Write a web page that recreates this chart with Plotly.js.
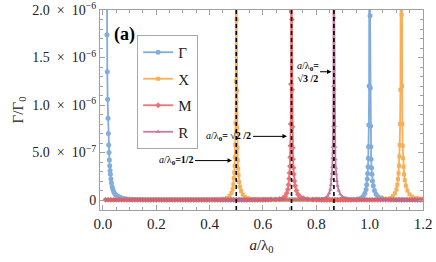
<!DOCTYPE html>
<html>
<head>
<meta charset="utf-8">
<script src="https://cdn.plot.ly/plotly-3.0.1.min.js"></script>
<style>
html,body{margin:0;padding:0;background:#fff;}
#chart{width:436px;height:262px;}
</style>
</head>
<body>
<div id="chart"></div>
<script>
// ---- data ----
const seriesNames = ["Γ", "X", "M", "R"];

const gammaX = [
  0.010,0.0125,0.015,0.0163,0.0177,0.019,0.0203,0.0216,0.0228,0.0241,0.0254,0.0267,0.028,0.030,0.032,0.0345,0.037,0.040,0.044,0.048,0.053,0.058,0.064,0.070,0.080,0.090,0.100,
  0.11,0.12,0.13,0.14,0.15,0.16,0.17,0.18,0.19,0.20,
  0.21,0.22,0.23,0.24,0.25,0.26,0.27,0.28,0.29,0.30,
  0.31,0.32,0.33,0.34,0.35,0.36,0.37,0.38,0.39,0.40,
  0.41,0.42,0.43,0.44,0.45,0.46,0.47,0.48,0.49,0.50,
  0.51,0.52,0.53,0.54,0.55,0.56,0.57,0.58,0.59,0.60,
  0.61,0.62,0.63,0.64,0.65,0.66,0.67,0.68,0.69,0.70,
  0.71,0.72,0.73,0.74,0.75,0.76,0.77,0.78,0.79,0.80,
  0.81,0.82,0.83,0.84,0.85,0.86,0.87,0.88,0.89,0.90,
  0.91,0.92,0.93,
  0.94,0.955,0.968,0.976,0.982,0.9865,0.989,0.991,0.9925,0.994,0.995,0.996,0.997,0.998,1.000,1.0015,1.0025,1.0035,1.0045,1.0055,1.007,1.0085,1.0105,1.0135,1.018,1.024,1.032,1.045,1.060,1.080,
  1.09,1.10,1.11,1.12,1.13,1.14,1.15,1.16,1.17,1.18,1.19,1.20
];
const gammaY = [
  5.9e-6,3.0e-6,1.74e-6,1.35e-6,1.06e-6,8.6e-7,7.0e-7,5.8e-7,5.0e-7,4.2e-7,3.6e-7,3.1e-7,2.7e-7,2.2e-7,1.8e-7,1.4e-7,1.15e-7,9.0e-8,6.8e-8,5.4e-8,4.5e-8,3.7e-8,3.0e-8,2.2e-8,1.5e-8,1.1e-8,8e-9,
  7e-9,6e-9,5e-9,5e-9,4e-9,4e-9,3e-9,3e-9,2e-9,2e-9,
  2e-9,2e-9,2e-9,2e-9,2e-9,2e-9,2e-9,2e-9,2e-9,2e-9,
  2e-9,2e-9,2e-9,2e-9,2e-9,2e-9,2e-9,2e-9,2e-9,2e-9,
  2e-9,2e-9,2e-9,2e-9,2e-9,2e-9,2e-9,2e-9,2e-9,2e-9,
  2e-9,2e-9,2e-9,2e-9,2e-9,2e-9,2e-9,2e-9,2e-9,2e-9,
  2e-9,2e-9,2e-9,2e-9,2e-9,2e-9,2e-9,2e-9,2e-9,2e-9,
  2e-9,2e-9,2e-9,2e-9,2e-9,2e-9,2e-9,2e-9,2e-9,2e-9,
  2e-9,2e-9,2e-9,2e-9,2e-9,2e-9,2e-9,2e-9,2e-9,2e-9,
  3e-9,3e-9,4e-9,
  6e-9,1.0e-8,2.0e-8,4.0e-8,7.0e-8,1.1e-7,1.6e-7,2.2e-7,2.8e-7,3.5e-7,4.4e-7,5.6e-7,7.9e-7,1.2e-6,6.0e-6,1.94e-6,1.18e-6,7.8e-7,5.6e-7,4.3e-7,3.4e-7,2.7e-7,2.0e-7,1.5e-7,1.0e-7,6.0e-8,3.5e-8,2.0e-8,1.0e-8,6e-9,
  5e-9,4e-9,4e-9,3e-9,3e-9,3e-9,2e-9,2e-9,2e-9,2e-9,2e-9,2e-9
];

const xPointX = [
  0.01,0.02,0.03,0.04,0.05,0.06,0.07,0.08,0.09,0.10,
  0.11,0.12,0.13,0.14,0.15,0.16,0.17,0.18,0.19,0.20,
  0.21,0.22,0.23,0.24,0.25,0.26,0.27,0.28,0.29,0.30,
  0.31,0.32,0.33,0.34,0.35,0.36,0.37,0.38,0.39,0.40,
  0.41,0.42,
  0.43,0.45,0.465,0.475,0.482,0.4865,0.489,0.491,0.4925,0.494,0.495,0.496,0.497,0.498,0.500,0.5015,0.5025,0.5035,0.5045,0.5055,0.507,0.5085,0.5105,0.5135,0.518,0.524,0.532,0.545,0.56,
  0.57,0.58,0.59,0.60,0.61,0.62,0.63,0.64,0.65,0.66,
  0.67,0.68,0.69,0.70,0.71,0.72,0.73,0.74,0.75,0.76,
  0.77,0.78,0.79,0.80,0.81,0.82,0.83,0.84,0.85,0.86,
  0.87,0.88,0.89,0.90,0.91,0.92,0.93,0.94,0.95,0.96,
  0.97,0.98,0.99,1.00,1.01,1.02,1.03,
  1.040,1.0595,1.0764,1.0868,1.0946,1.1005,1.1037,1.1063,1.1083,1.1102,1.1115,1.1128,1.1141,1.1154,1.118,
  1.1200,1.1213,1.1226,1.1239,1.1252,1.1271,1.1291,1.1317,1.1356,1.1414,1.1492,1.1596,1.1765,1.19,1.200
];
const xPointY = [
  2e-9,2e-9,2e-9,2e-9,2e-9,2e-9,2e-9,2e-9,2e-9,2e-9,
  2e-9,2e-9,2e-9,2e-9,2e-9,2e-9,2e-9,2e-9,2e-9,2e-9,
  2e-9,2e-9,2e-9,2e-9,2e-9,2e-9,2e-9,2e-9,2e-9,2e-9,
  2e-9,2e-9,2e-9,2e-9,2e-9,2e-9,2e-9,2e-9,2e-9,3e-9,
  3e-9,4e-9,
  7e-9,1.2e-8,2.2e-8,4.2e-8,7.5e-8,1.15e-7,1.65e-7,2.3e-7,2.9e-7,3.6e-7,4.5e-7,5.8e-7,8.1e-7,1.25e-6,6.5e-6,1.9e-6,1.15e-6,7.6e-7,5.5e-7,4.2e-7,3.3e-7,2.6e-7,1.9e-7,1.4e-7,9.5e-8,5.8e-8,3.4e-8,1.9e-8,1.0e-8,
  8e-9,6e-9,5e-9,4e-9,3e-9,3e-9,2e-9,2e-9,2e-9,2e-9,
  2e-9,2e-9,2e-9,2e-9,2e-9,2e-9,2e-9,2e-9,2e-9,2e-9,
  2e-9,2e-9,2e-9,2e-9,2e-9,2e-9,2e-9,2e-9,2e-9,2e-9,
  2e-9,2e-9,2e-9,2e-9,2e-9,2e-9,2e-9,2e-9,2e-9,2e-9,
  2e-9,2e-9,2e-9,2e-9,3e-9,3e-9,4e-9,
  6e-9,1.0e-8,2.0e-8,4.0e-8,7.0e-8,1.1e-7,1.6e-7,2.2e-7,2.8e-7,3.6e-7,4.6e-7,5.8e-7,8.0e-7,1.16e-6,5.5e-6,
  1.95e-6,1.2e-6,8.0e-7,5.7e-7,4.4e-7,3.5e-7,2.7e-7,2.1e-7,1.5e-7,1.0e-7,6.0e-8,3.5e-8,2.0e-8,1.4e-8,1.0e-8
];

const mPointX = [
  0.01,0.02,0.03,0.04,0.05,0.06,0.07,0.08,0.09,0.10,
  0.11,0.12,0.13,0.14,0.15,0.16,0.17,0.18,0.19,0.20,
  0.21,0.22,0.23,0.24,0.25,0.26,0.27,0.28,0.29,0.30,
  0.31,0.32,0.33,0.34,0.35,0.36,0.37,0.38,0.39,0.40,
  0.41,0.42,0.43,0.44,0.45,0.46,0.47,0.48,0.49,0.50,
  0.51,0.52,0.53,0.54,0.55,0.56,0.57,0.58,0.59,0.60,
  0.61,0.62,0.63,
  0.6471,0.6621,0.6751,0.6831,0.6891,0.6936,0.6961,0.6981,0.6996,0.7011,0.7021,0.7031,0.7041,0.7051,0.7071,
  0.7086,0.7096,0.7106,0.7116,0.7126,0.7141,0.7156,0.7176,0.7206,0.7251,0.7311,0.7391,0.7521,0.7671,0.7871,
  0.80,0.81,0.82,0.83,0.84,0.85,0.86,0.87,0.88,0.89,
  0.90,0.91,0.92,0.93,0.94,0.95,0.96,0.97,0.98,0.99,
  1.00,1.01,1.02,1.03,1.04,1.05,1.06,1.07,1.08,1.09,
  1.10,1.11,1.12,1.13,1.14,1.15,1.16,1.17,1.18,1.19,
  1.20
];
const mPointY = [
  2e-9,2e-9,2e-9,2e-9,2e-9,2e-9,2e-9,2e-9,2e-9,2e-9,
  2e-9,2e-9,2e-9,2e-9,2e-9,2e-9,2e-9,2e-9,2e-9,2e-9,
  2e-9,2e-9,2e-9,2e-9,2e-9,2e-9,2e-9,2e-9,2e-9,2e-9,
  2e-9,2e-9,2e-9,2e-9,2e-9,2e-9,2e-9,2e-9,2e-9,2e-9,
  2e-9,2e-9,2e-9,2e-9,2e-9,2e-9,2e-9,2e-9,2e-9,2e-9,
  2e-9,2e-9,2e-9,2e-9,2e-9,2e-9,2e-9,2e-9,2e-9,3e-9,
  3e-9,4e-9,5e-9,
  7e-9,1.1e-8,2.1e-8,4.1e-8,7.2e-8,1.12e-7,1.62e-7,2.25e-7,2.85e-7,3.55e-7,4.5e-7,5.7e-7,8.0e-7,1.22e-6,6.2e-6,
  1.9e-6,1.16e-6,7.7e-7,5.5e-7,4.3e-7,3.4e-7,2.7e-7,2.0e-7,1.5e-7,1.0e-7,6.0e-8,3.5e-8,2.0e-8,1.0e-8,6e-9,
  5e-9,4e-9,3e-9,3e-9,2e-9,2e-9,2e-9,2e-9,2e-9,2e-9,
  2e-9,2e-9,2e-9,2e-9,2e-9,2e-9,2e-9,2e-9,2e-9,2e-9,
  2e-9,2e-9,2e-9,2e-9,2e-9,2e-9,2e-9,2e-9,2e-9,2e-9,
  2e-9,2e-9,2e-9,2e-9,2e-9,2e-9,2e-9,2e-9,2e-9,2e-9,
  2e-9
];

const rPointX = [
  0.01,0.02,0.03,0.04,0.05,0.06,0.07,0.08,0.09,0.10,
  0.11,0.12,0.13,0.14,0.15,0.16,0.17,0.18,0.19,0.20,
  0.21,0.22,0.23,0.24,0.25,0.26,0.27,0.28,0.29,0.30,
  0.31,0.32,0.33,0.34,0.35,0.36,0.37,0.38,0.39,0.40,
  0.41,0.42,0.43,0.44,0.45,0.46,0.47,0.48,0.49,0.50,
  0.51,0.52,0.53,0.54,0.55,0.56,0.57,0.58,0.59,0.60,
  0.61,0.62,0.63,0.64,0.65,0.66,0.67,0.68,0.69,0.70,
  0.71,0.72,0.73,0.74,0.75,0.76,0.77,0.78,0.79,
  0.806,0.821,0.834,0.842,0.848,0.8525,0.855,0.857,0.8585,0.860,0.861,0.862,0.863,0.864,0.866,
  0.8675,0.8685,0.8695,0.8705,0.8715,0.873,0.8745,0.8765,0.8795,0.884,0.890,0.898,0.911,0.926,0.946,
  0.96,0.97,0.98,0.99,1.00,1.01,1.02,1.03,1.04,1.05,
  1.06,1.07,1.08,1.09,1.10,1.11,1.12,1.13,1.14,1.15,
  1.16,1.17,1.18,1.19,1.20
];
const rPointY = [
  2e-9,2e-9,2e-9,2e-9,2e-9,2e-9,2e-9,2e-9,2e-9,2e-9,
  2e-9,2e-9,2e-9,2e-9,2e-9,2e-9,2e-9,2e-9,2e-9,2e-9,
  2e-9,2e-9,2e-9,2e-9,2e-9,2e-9,2e-9,2e-9,2e-9,2e-9,
  2e-9,2e-9,2e-9,2e-9,2e-9,2e-9,2e-9,2e-9,2e-9,2e-9,
  2e-9,2e-9,2e-9,2e-9,2e-9,2e-9,2e-9,2e-9,2e-9,2e-9,
  2e-9,2e-9,2e-9,2e-9,2e-9,2e-9,2e-9,2e-9,2e-9,2e-9,
  2e-9,2e-9,2e-9,2e-9,2e-9,2e-9,2e-9,2e-9,2e-9,2e-9,
  2e-9,2e-9,2e-9,2e-9,2e-9,3e-9,3e-9,4e-9,5e-9,
  7e-9,1.1e-8,2.1e-8,4.0e-8,7.0e-8,1.1e-7,1.6e-7,2.2e-7,2.8e-7,3.5e-7,4.4e-7,5.6e-7,7.8e-7,1.2e-6,6.0e-6,
  1.92e-6,1.17e-6,7.8e-7,5.6e-7,4.3e-7,3.4e-7,2.7e-7,2.0e-7,1.5e-7,1.0e-7,6.0e-8,3.5e-8,2.0e-8,1.0e-8,6e-9,
  5e-9,4e-9,3e-9,3e-9,2e-9,2e-9,2e-9,2e-9,2e-9,2e-9,
  2e-9,2e-9,2e-9,2e-9,2e-9,2e-9,2e-9,2e-9,2e-9,2e-9,
  2e-9,2e-9,2e-9,2e-9,2e-9
];

// special lattice constants marked by dashed lines
const guideX = [0.5, 0.7071, 0.8660];
const guideLabels = [
  "<i>a</i>/λ<sub><b>0</b></sub><b>=1/2</b>",
  "<i>a</i>/λ<sub><b>0</b></sub><b>= √2 /2</b>",
  "<i>a</i>/λ<sub><b>0</b></sub><b>=</b><br><b>√3 /2</b>"
];
const labelArrowX = [0.484, 0.690, 0.857];
const labelArrowY = [4.15e-7, 6.7e-7, 1.35e-6];

const yTickVals = [0, 5e-7, 1e-6, 1.5e-6, 2e-6];
const yTickText = ["0", "5.0\u2002×\u200210<sup>−7</sup>", "1.0\u2002×\u200210<sup>−6</sup>", "1.5\u2002×\u200210<sup>−6</sup>", "2.0\u2002×\u200210<sup>−6</sup>"];
const xTickVals = [0.0, 0.2, 0.4, 0.6, 0.8, 1.0, 1.2];
const xRange = [-0.011, 1.2];
const yRange = [-1.05e-7, 2e-6];

// ---- styling ----
const colors = ["#6a9fd6", "#f7a23a", "#ea5a60", "#b8688f"];
const symbols = ["circle", "square", "diamond", "triangle-up"];
const msizes = [5, 4, 4.5, 4];
const FONT = "Liberation Serif";
const FRAME = "#a0a0a0";

const xs = [gammaX, xPointX, mPointX, rPointX];
const ys = [gammaY, xPointY, mPointY, rPointY];

const traces = seriesNames.map((n, i) => ({
  type: "scatter",
  mode: "lines+markers",
  name: n,
  legendgroup: "g" + i,
  x: xs[i],
  y: ys[i],
  opacity: 0.85,
  line: {color: colors[i], width: 1.8},
  marker: {color: colors[i], symbol: symbols[i], size: msizes[i]}
}));
// empty trace that carries the overlay axes used for the minor ticks
traces.push({type: "scatter", mode: "markers", x: [], y: [], xaxis: "x2", yaxis: "y2", showlegend: false, hoverinfo: "skip"});

const shapes = guideX.map(v => ({
  type: "line", xref: "x", yref: "paper", x0: v, x1: v, y0: 0, y1: 1,
  line: {color: "#000", width: 1.6, dash: "4px,3px"}, layer: "above"
}));

const annotations = guideLabels.map((t, i) => ({
  x: labelArrowX[i], y: labelArrowY[i], xref: "x", yref: "y",
  text: t, showarrow: true, arrowhead: 2, arrowsize: 0.9, arrowwidth: 1, arrowcolor: "#000",
  ax: [-56, -58, -24][i], ay: 0,
  font: {family: FONT, size: 10, color: "#000"}
}));
annotations.push({
  x: 0.077, y: 0.88, xref: "paper", yref: "paper", showarrow: false,
  text: "<b>(a)</b>", font: {family: FONT, size: 18, color: "#000"},
  xanchor: "center", yanchor: "middle"
});

const layout = {
  width: 436, height: 262,
  margin: {l: 100, r: 13, t: 10, b: 52},
  paper_bgcolor: "#fff", plot_bgcolor: "#fff",
  font: {family: FONT, size: 14, color: "#222"},
  showlegend: true,
  legend: {
    x: 0.115, y: 0.875, xanchor: "left", yanchor: "top",
    bgcolor: "#fff", bordercolor: "#aaa", borderwidth: 1,
    font: {family: FONT, size: 15, color: "#222"},
    tracegroupgap: 4
  },
  xaxis: {
    range: xRange, tickvals: xTickVals, tickformat: ".1f",
    showline: true, linecolor: FRAME, linewidth: 1, mirror: "ticks",
    ticks: "inside", ticklen: 5, tickcolor: FRAME, tickwidth: 1,
    showgrid: false, zeroline: false,
    tickfont: {family: FONT, size: 15, color: "#222"},
    title: {text: "<i>a</i>/λ<sub>0</sub>", font: {family: FONT, size: 15, color: "#222"}, standoff: 8}
  },
  yaxis: {
    range: yRange, tickvals: yTickVals, ticktext: yTickText,
    showline: true, linecolor: FRAME, linewidth: 1, mirror: "ticks",
    ticks: "inside", ticklen: 5, tickcolor: FRAME, tickwidth: 1,
    showgrid: false, zeroline: false,
    tickfont: {family: FONT, size: 14, color: "#222"},
    title: {text: "Γ/Γ<sub>0</sub>", font: {family: FONT, size: 15, color: "#222"}, standoff: 5}
  },
  xaxis2: {
    overlaying: "x", anchor: "y2", range: xRange, tickmode: "linear", tick0: 0, dtick: 0.05,
    ticks: "inside", ticklen: 3, tickcolor: FRAME, tickwidth: 1, mirror: "ticks",
    showline: false, showticklabels: false, showgrid: false, zeroline: false
  },
  yaxis2: {
    overlaying: "y", anchor: "x2", range: yRange, tickmode: "linear", tick0: 0, dtick: 1e-7,
    ticks: "inside", ticklen: 3, tickcolor: FRAME, tickwidth: 1, mirror: "ticks",
    showline: false, showticklabels: false, showgrid: false, zeroline: false
  },
  shapes: shapes,
  annotations: annotations
};

Plotly.newPlot("chart", traces, layout, {displayModeBar: false, staticPlot: true});
</script>
</body>
</html>
